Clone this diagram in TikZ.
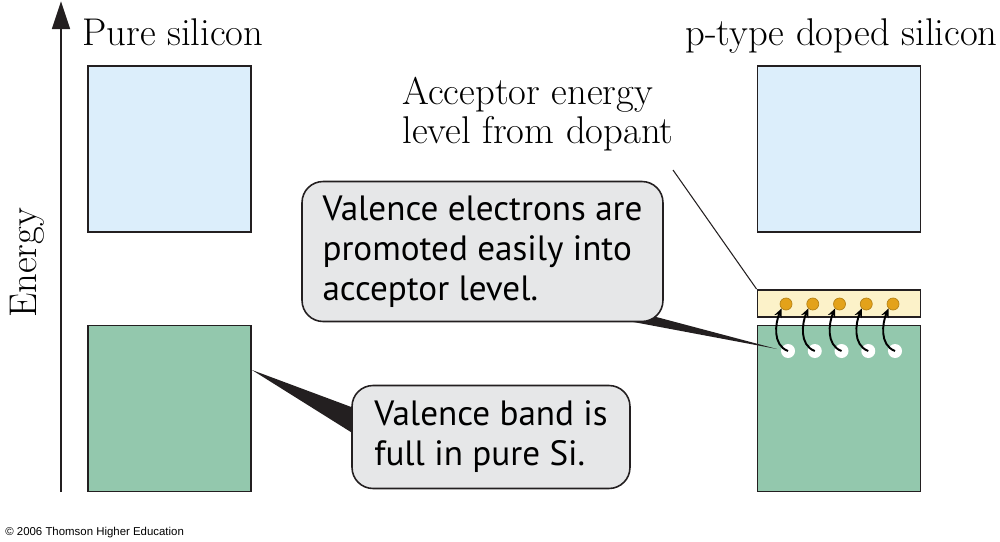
\documentclass[tikz,border=0pt]{standalone}
\usepackage{fontspec}
\newfontfamily\calloutfont{PT Sans}
\newfontfamily\creditfont{Liberation Sans}
\usetikzlibrary{arrows.meta,calc}

\definecolor{condblue}{HTML}{DCEEFB}
\definecolor{valgreen}{HTML}{93C8AD}
\definecolor{acclevel}{HTML}{FCF2C9}
\definecolor{holeorange}{HTML}{E3A21A}
\definecolor{calloutgray}{HTML}{E6E7E8}
\definecolor{edgegray}{HTML}{231F20}

\begin{document}
\begin{tikzpicture}[x=0.02cm,y=-0.02cm,
   band/.style={draw=edgegray,line width=1.1pt,minimum width=3.26cm,inner sep=0pt},
   heading/.style={font=\fontsize{22}{22.2}\selectfont,inner sep=0pt},
   callout/.style={draw=edgegray,line width=0.9pt,fill=calloutgray,rounded corners=0.42cm,
                   align=left,font=\calloutfont\fontsize{20}{22.8}\selectfont},
   wedge/.style={fill=edgegray},
   hole/.style={circle,fill=holeorange,draw=holeorange!80!black,line width=0.4pt,
                minimum size=0.24cm,inner sep=0pt},
   electron/.style={circle,fill=white,minimum size=0.28cm,inner sep=0pt},
   jump/.style={-{Stealth[length=5pt,width=4.5pt]},line width=1.1pt,black}]

   \useasboundingbox (0,0) rectangle (1000,541);

   % energy axis
   \coordinate (axBot) at (61,492);
   \coordinate (axTop) at (61,1);
   \draw[-{Triangle[length=16pt,width=10pt]},line width=1.7pt,edgegray] (axBot) -- (axTop);
   \node[heading,rotate=90,anchor=base] (energy) at (36,263) {Energy};

   \node[heading,anchor=base west] (pureTitle) at (82,45) {Pure silicon};
   \node[heading,anchor=base east] (dopedTitle) at (998,45) {p-type doped silicon};

   % bands
   \node[band,fill=condblue,minimum height=3.32cm] (cbPure) at (169.5,149) {};
   \node[band,fill=valgreen,minimum height=3.32cm] (vbPure) at (169.5,408.5) {};
   \node[band,fill=condblue,minimum height=3.32cm] (cbDoped) at (839,149) {};
   \node[band,fill=valgreen,minimum height=3.32cm] (vbDoped) at (839,408.5) {};
   \node[band,fill=acclevel,minimum height=0.54cm] (accBar) at (839,303.5) {};

   \node[heading,align=left,anchor=north west] (accTxt) at (402,77) {Acceptor energy\\level from dopant};
   \coordinate (accFoot) at (673,170);
   \draw[line width=0.6pt,edgegray] (accFoot) -- (accBar.north west);

   % callout pointers
   \coordinate (promoBaseA) at (620,319.5);
   \coordinate (promoBaseB) at (645,314);
   \coordinate (promoTip) at (777,349);
   \fill[wedge] (promoBaseA) -- (promoTip) -- (promoBaseB) -- cycle;

   \coordinate (fullBaseA) at (362,411);
   \coordinate (fullBaseB) at (362,439);
   \coordinate (fullTip) at ($(vbPure.east)+(0,-38.5)$);
   \fill[wedge] (fullBaseA) -- (fullTip) -- (fullBaseB) -- cycle;

   \node[callout,minimum width=7.22cm,minimum height=2.8cm] (promoNote) at (482.5,251.5)
      {Valence electrons are\\promoted easily into\\acceptor level.};
   \node[callout,minimum width=5.56cm,minimum height=2.06cm] (fullNote) at (491,437)
      {Valence band is\\full in pure Si.};

   % holes and promoted electrons
   \foreach \i in {0,...,4} {
     \node[hole] (h\i) at (786+26.75*\i,304) {};
     \node[electron] (e\i) at (788+26.75*\i,351) {};
     \draw[jump] (e\i.center) .. controls +(-16,-6) and +(-6,14) .. (h\i.south west);
   }

   \node[font=\creditfont\fontsize{6.5}{8}\selectfont,anchor=west,inner sep=0pt] (credit) at (5,533)
      {© 2006 Thomson Higher Education};
\end{tikzpicture}
\end{document}
